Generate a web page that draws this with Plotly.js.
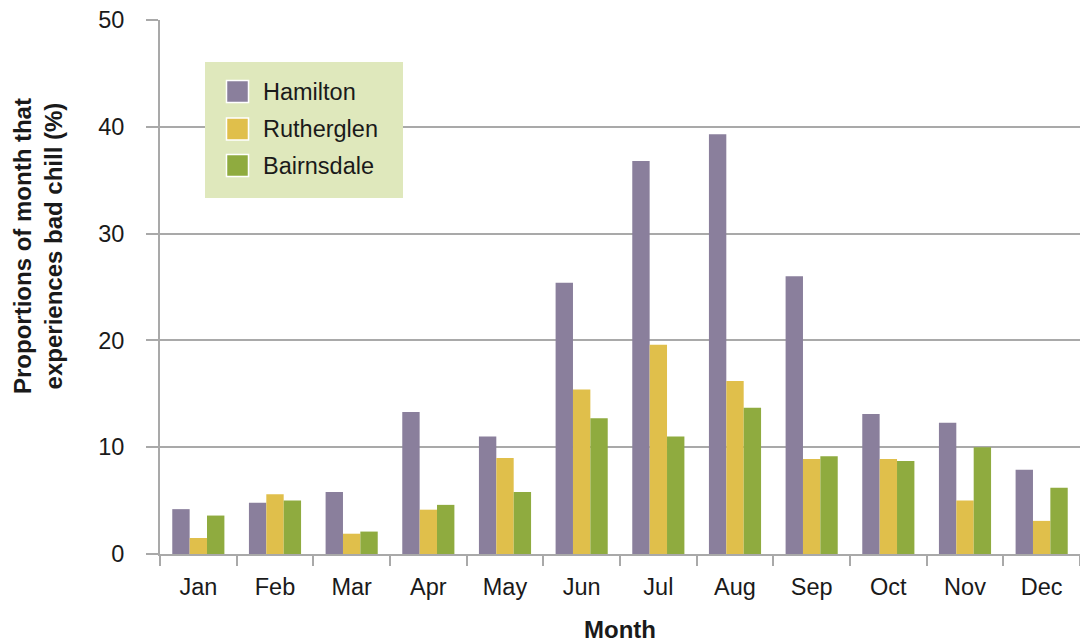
<!DOCTYPE html>
<html>
<head>
<meta charset="utf-8">
<script src="https://cdn.plot.ly/plotly-3.0.1.min.js"></script>
<style>html,body{margin:0;padding:0;background:#fff;}#chart{width:1080px;height:643px;}</style>
</head>
<body>
<div id="chart"></div>
<script>
const months = ["Jan","Feb","Mar","Apr","May","Jun","Jul","Aug","Sep","Oct","Nov","Dec"];
const seriesNames = ["Hamilton","Rutherglen","Bairnsdale"];
const hamilton   = [4.2, 4.8, 5.8, 13.3, 11.0, 25.4, 36.8, 39.3, 26.0, 13.1, 12.3, 7.9];
const rutherglen = [1.5, 5.6, 1.9, 4.15, 9.0, 15.4, 19.6, 16.2, 8.9, 8.9, 5.0, 3.1];
const bairnsdale = [3.6, 5.0, 2.1, 4.6, 5.8, 12.7, 11.0, 13.7, 9.15, 8.7, 10.0, 6.2];
const yTicks = [0, 10, 20, 30, 40, 50];
const colors = ["#8a7f9c", "#e0bf4b", "#8fab3f"];

const values = [hamilton, rutherglen, bairnsdale];
const font = "Liberation Sans, Arial, Helvetica, sans-serif";
const grid = "#a9a9a9";

const traces = values.map((v, i) => ({
  type: "bar", x: months, y: v, name: seriesNames[i],
  marker: {color: colors[i], line: {width: 0}}, showlegend: false
}));

// custom legend (paper coords of plot area)
const L = 160, W = 920, B = 554, H = 534;
const px = p => (p - L) / W;
const py = p => (B - p) / H;
const shapes = [{
  type: "rect", xref: "paper", yref: "paper", layer: "above",
  x0: px(205), x1: px(403), y0: py(198), y1: py(62),
  fillcolor: "#dfe8bc", line: {width: 0}
}];
const annotations = [];
const rowY = [91.5, 129, 165.5];
seriesNames.forEach((n, i) => {
  shapes.push({
    type: "rect", xref: "paper", yref: "paper", layer: "above",
    x0: px(226.5), x1: px(248.5), y0: py(rowY[i] + 11), y1: py(rowY[i] - 11),
    fillcolor: colors[i], line: {color: "#ffffff", width: 1.5}
  });
  annotations.push({
    xref: "paper", yref: "paper", x: px(261), y: py(rowY[i]),
    xanchor: "left", yanchor: "middle", showarrow: false,
    text: n, font: {family: font, size: 23.5, color: "#1a1a1a"}
  });
});
annotations.push({
  xref: "paper", yref: "paper", x: px(38), y: py(246),
  xanchor: "center", yanchor: "middle", showarrow: false, textangle: -90,
  text: "Proportions of month that<br>experiences bad chill (%)",
  font: {family: font, size: 24, color: "#1a1a1a", weight: "bold"}
});

const layout = {
  width: 1080, height: 643,
  margin: {l: 160, r: 0, t: 20, b: 89},
  paper_bgcolor: "#ffffff", plot_bgcolor: "#ffffff",
  barmode: "group", bargap: 0.32, bargroupgap: 0,
  font: {family: font, color: "#1a1a1a"},
  xaxis: {
    type: "category", range: [-0.5, 11.5],
    tickson: "boundaries", ticks: "outside", ticklen: 10, tickwidth: 2, tickcolor: grid,
    showline: true, linecolor: grid, linewidth: 2, showgrid: false,
    tickfont: {family: font, size: 23.5, color: "#1a1a1a"},
    ticklabelstandoff: 11,
    title: {text: "Month", font: {family: font, size: 24, color: "#1a1a1a", weight: "bold"}, standoff: 24},
    fixedrange: true
  },
  yaxis: {
    range: [0, 50], tickvals: yTicks, ticktext: yTicks.map(String),
    ticks: "outside", ticklen: 12, tickwidth: 2, tickcolor: grid,
    showline: true, linecolor: grid, linewidth: 2,
    showgrid: true, gridcolor: grid, gridwidth: 2, zeroline: false,
    tickfont: {family: font, size: 23.5, color: "#1a1a1a"},
    ticklabelstandoff: 17,
    fixedrange: true
  },
  shapes: shapes, annotations: annotations
};

Plotly.newPlot("chart", traces, layout, {staticPlot: true, displayModeBar: false});
</script>
</body>
</html>
